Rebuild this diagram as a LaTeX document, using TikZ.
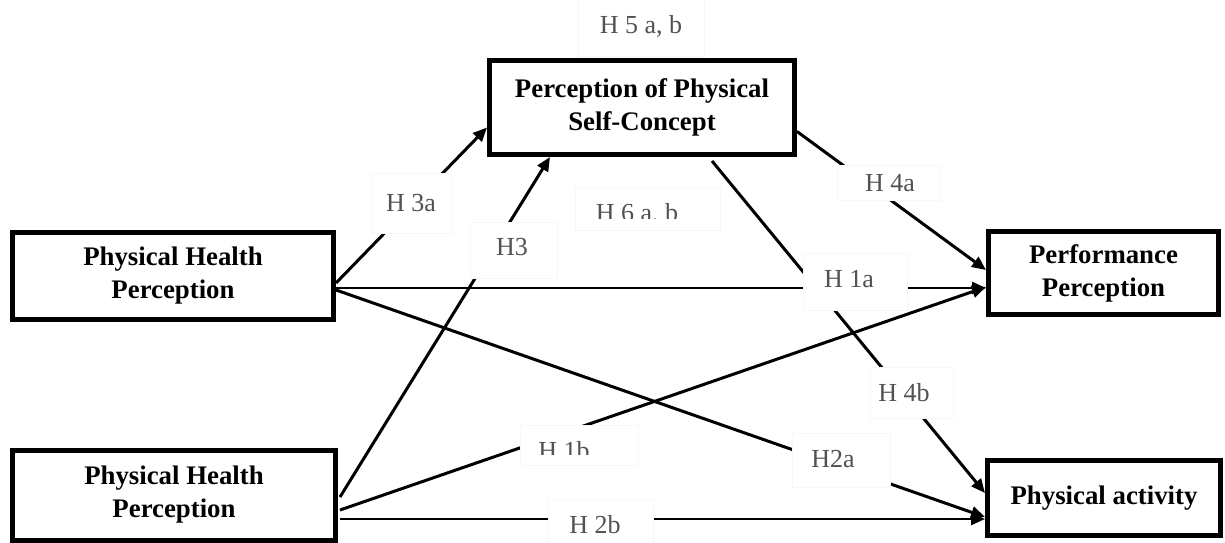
\documentclass[tikz,border=0pt]{standalone}
\usepackage{fontspec}
\setmainfont{Liberation Serif}
\usetikzlibrary{arrows.meta,calc}
\begin{document}
\begin{tikzpicture}[x=0.5pt,y=-0.5pt,
  construct/.style={draw=black,line width=2.5pt,fill=white,align=center,inner sep=0pt,
    font=\bfseries\fontsize{13.4}{16.5}\selectfont},
  frame/.style={draw=black!3,line width=0.4pt,fill=white,inner sep=0pt},
  hyp/.style={text=black!68,inner sep=0pt,font=\fontsize{13}{15}\selectfont},
  link/.style={line width=1.5pt,-{Triangle[length=7pt,width=6pt]}},
  flat/.style={line width=1.2pt,-{Triangle[length=7pt,width=6pt]}}]
\useasboundingbox (0,0) rectangle (1225,542);

% constructs
\node[construct,minimum width=152.5pt,minimum height=47pt] (ppsc) at (642,107.5)
  {Perception of Physical\\Self-Concept};
\node[construct,minimum width=160.5pt,minimum height=43.5pt] (php1) at (173,276)
  {Physical Health\\Perception};
\node[construct,minimum width=161.5pt,minimum height=45pt] (php2) at (174,495)
  {Physical Health\\Perception};
\node[construct,minimum width=115pt,minimum height=41.5pt] (pp) at (1103.5,273)
  {Performance\\Perception};
\node[construct,minimum width=116.5pt,minimum height=37.5pt] (pa) at (1104,498)
  {Physical activity};

% paths
\draw[link] ($(php1.east)+(0,7)$) -- ($(ppsc.west)+(0,20)$);
\draw[flat] ($(php1.east)+(0,12)$) -- ($(pp.west)+(0,15)$);
\draw[link] ($(php1.east)+(0,14)$) -- ($(pa.west)+(0,19)$);
\draw[link] ($(php2.east)+(2,2)$) -- ($(ppsc.south)+(-92,0)$);
\draw[link] ($(php2.east)+(2,15)$) -- ($(pp.west)+(0,14)$);
\draw[flat] ($(php2.east)+(2,24)$) -- ($(pa.west)+(0,21)$);
\draw[link] ($(ppsc.east)+(0,24)$) -- ($(pp.west)+(0,-3)$);
\draw[link] ($(ppsc.south)+(70,4)$) -- ($(pa.west)+(0,-5)$);

% hypothesis frames
\node[frame,minimum width=63pt,minimum height=29pt] (f5) at (641,27) {};
\node[frame,minimum width=40pt,minimum height=30pt] (f3a) at (411,203) {};
\node[frame,minimum width=43.5pt,minimum height=28pt] (f3) at (513.5,250) {};
\node[frame,minimum width=72.5pt,minimum height=21pt] (f6) at (647.5,209) {};
\node[frame,minimum width=51.5pt,minimum height=17.5pt] (f4a) at (888.5,182.5) {};
\node[frame,minimum width=52pt,minimum height=28.5pt] (f1a) at (855,281.5) {};
\node[frame,minimum width=41.5pt,minimum height=25.5pt] (f4b) at (911.5,392.5) {};
\node[frame,minimum width=59pt,minimum height=20pt] (f1b) at (579,445) {};
\node[frame,minimum width=49pt,minimum height=27pt] (f2a) at (841,460) {};
\node[frame,minimum width=52.5pt,minimum height=24pt] (f2b) at (600.5,523.5) {};

% hypothesis labels
\node[hyp] (t5) at (641,26) {H 5 a, b};
\node[hyp] (t3a) at (411,203) {H 3a};
\node[hyp] (t3) at (512,247) {H3};
\node[hyp,anchor=base] (t6) at (637,221) {H 6 a, b};
\node[hyp] (t4a) at (890,183) {H 4a};
\node[hyp] (t1a) at (849,279) {H 1a};
\node[hyp] (t4b) at (904,393) {H 4b};
\node[hyp,anchor=base] (t1b) at (564,459) {H 1b};
\node[hyp] (t2a) at (833,459) {H2a};
\node[hyp] (t2b) at (595,525) {H 2b};

% the two text boxes cut off the foot of their labels
\fill[white] (585,219) rectangle (700,228);
\fill[white] (530,455) rectangle (620,463);
\end{tikzpicture}
\end{document}
